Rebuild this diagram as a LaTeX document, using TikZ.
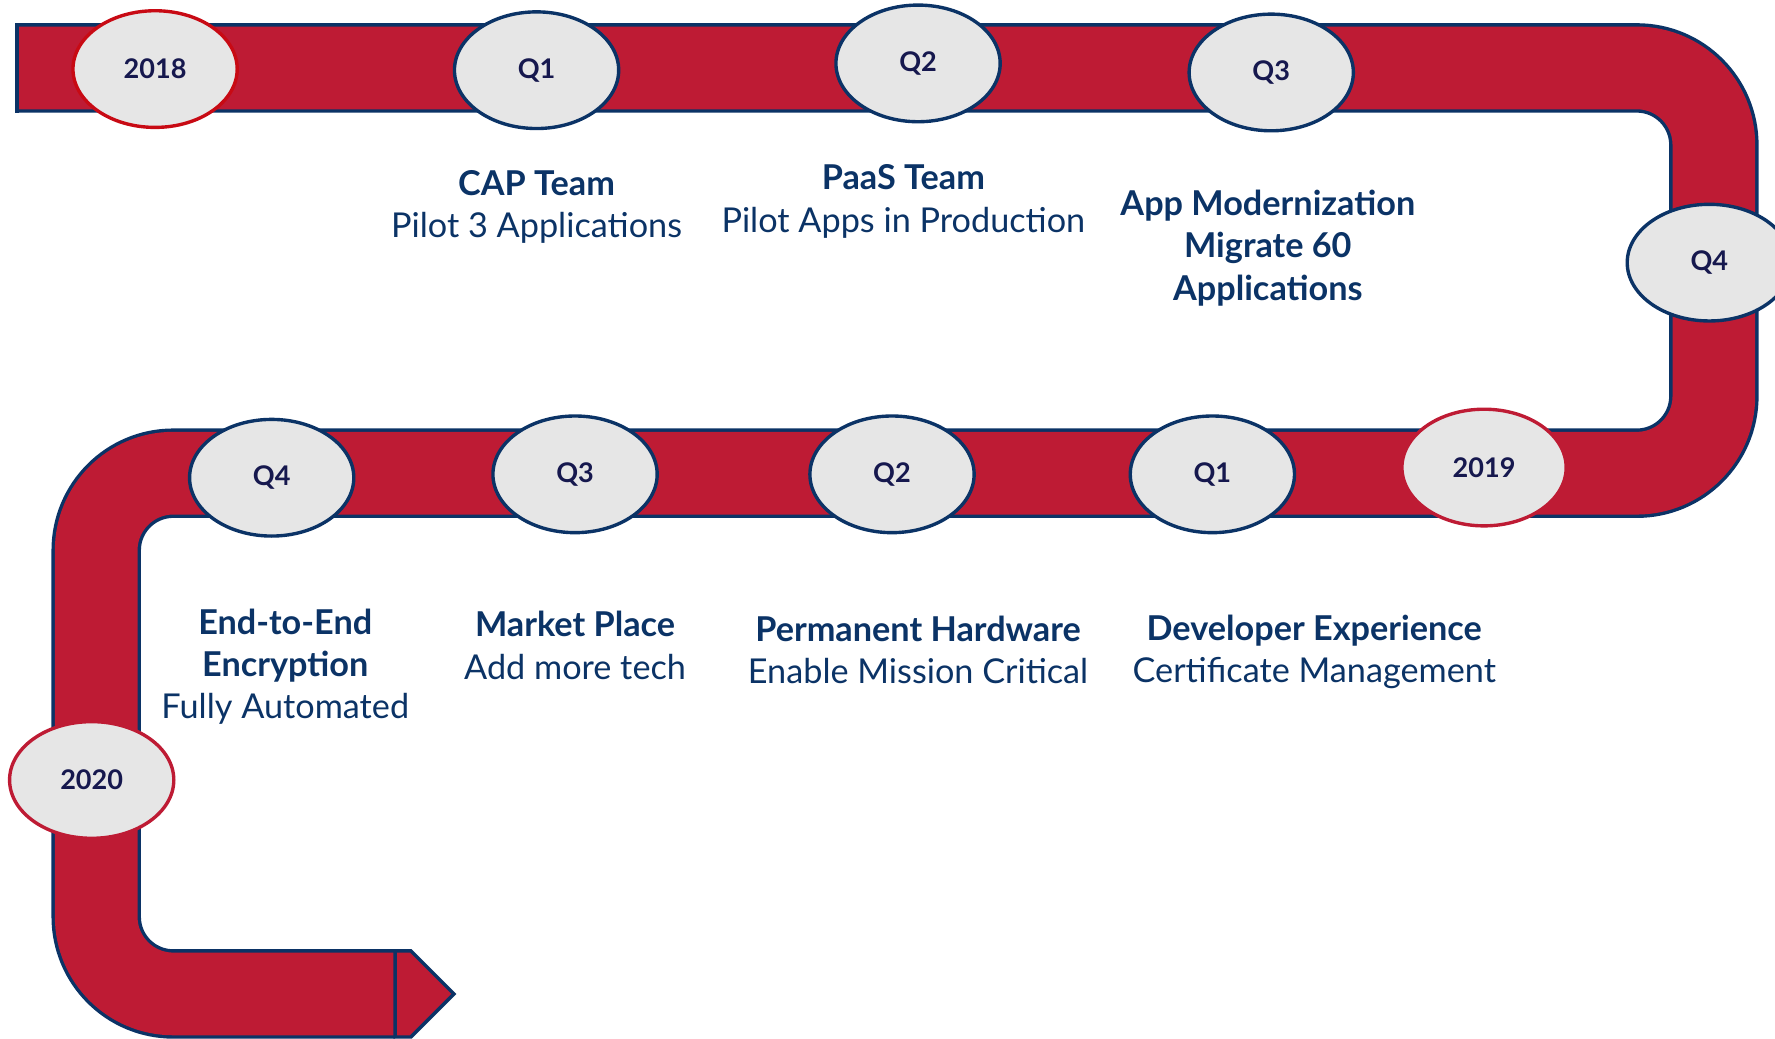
\documentclass[tikz,border=0pt]{standalone}
\usepackage{fontspec}
\setmainfont{Lato}
\usetikzlibrary{shapes.geometric}

\definecolor{bandred}{RGB}{190,27,52}
\definecolor{navy}{RGB}{11,51,102}
\definecolor{labelnavy}{RGB}{22,24,78}
\definecolor{dotgray}{RGB}{230,230,230}
\definecolor{yearred}{RGB}{200,10,20}

\begin{document}
\begin{tikzpicture}[x=0.01cm,y=-0.01cm,
    qtr/.style={ellipse, draw=navy, line width=0.85pt, fill=dotgray, minimum width=1.45cm, minimum height=1.03cm, inner sep=0pt, text=labelnavy, font=\bfseries\fontsize{6.8}{8}\selectfont},
    yr/.style={qtr, draw=bandred},
    info/.style={align=center, text=navy, font=\fontsize{8.6}{10.66}\selectfont}]

    \useasboundingbox (0,0) rectangle (1568,917);

    % the road
    \draw[navy, line width=0.79cm, rounded corners=0.68cm] (15,60) -- (1514,60) -- (1514,418) -- (85,418) -- (85,878) -- (349,878);
    \draw[bandred, line width=0.73cm, rounded corners=0.68cm] (15,60) -- (1514,60) -- (1514,418) -- (85,418) -- (85,878) -- (349,878);
    \draw[navy, line width=0.85pt] (15,20.5) -- (15,99.5);
    \draw[navy, fill=bandred, line width=0.85pt] (349,840) -- (363,840) -- (401,878) -- (363,916) -- (349,916) -- cycle;

    % milestones
    \node[yr, draw=yearred] (y2018) at (137,61) {2018};
    \node[qtr] (q1a) at (474,62) {Q1};
    \node[qtr] (q2a) at (811,56) {Q2};
    \node[qtr] (q3a) at (1123,64) {Q3};
    \node[qtr] (q4a) at (1510,232) {Q4};
    \node[yr] (y2019) at (1311,413) {2019};
    \node[qtr] (q1b) at (1071,419) {Q1};
    \node[qtr] (q2b) at (788,419) {Q2};
    \node[qtr] (q3b) at (508,419) {Q3};
    \node[qtr] (q4b) at (240,422) {Q4};
    \node[yr] (y2020) at (81,689) {2020};

    % texts
    \node[info] (cap) at (474,183) {\textbf{CAP Team}\\Pilot 3 Applications};
    \node[info] (paas) at (798,178) {\textbf{PaaS Team}\\Pilot Apps in Production};
    \node[info] (appmod) at (1120,219) {\textbf{App Modernization}\\\textbf{Migrate 60}\\\textbf{Applications}};
    \node[info] (enc) at (252,589) {\textbf{End-to-End}\\\textbf{Encryption}\\Fully Automated};
    \node[info] (market) at (508,570) {\textbf{Market Place}\\Add more tech};
    \node[info] (hw) at (811,574) {\textbf{Permanent Hardware}\\Enable Mission Critical};
    \node[info] (devexp) at (1161,576) {\textbf{Developer Experience}\\Certificate Management};

\end{tikzpicture}
\end{document}
